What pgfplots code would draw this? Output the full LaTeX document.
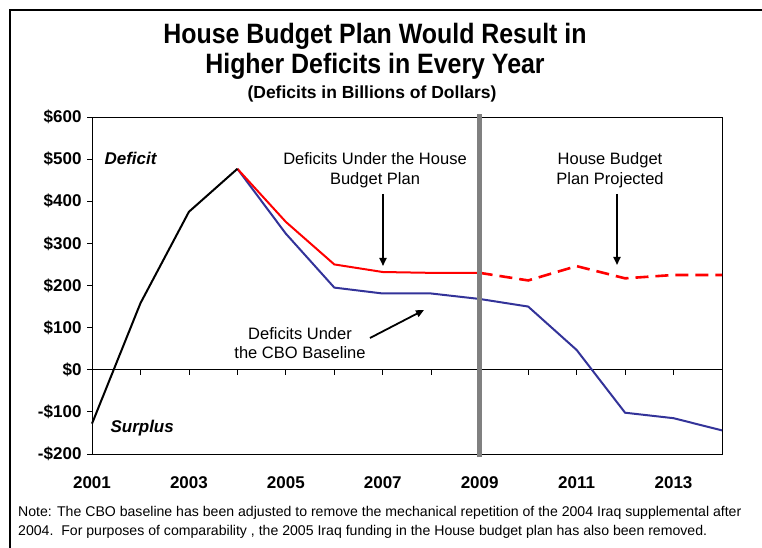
\documentclass[border=0pt]{standalone}
\usepackage{pgfplots}
\pgfplotsset{compat=1.18}
\usepackage{fontspec}
\setmainfont{Liberation Sans}
\newfontfamily\titlefont[FakeStretch=0.89]{Liberation Sans}
\usetikzlibrary{arrows.meta}
\definecolor{cboblue}{RGB}{51,51,153}
\definecolor{vline}{RGB}{128,128,128}
\newcommand{\fs}[1]{\fontsize{#1}{#1}\selectfont}
\begin{document}
\begin{tikzpicture}
\useasboundingbox (0pt,0pt) rectangle (762pt,548pt);
\draw[line width=2pt] (10pt,0pt) -- (10pt,538pt) -- (762pt,538pt);
\node[font=\titlefont\bfseries\fs{28}] at (375pt,512pt) {House Budget Plan Would Result in};
\node[font=\titlefont\bfseries\fs{28}] at (375pt,482pt) {Higher Deficits in Every Year};
\node[font=\bfseries\fs{17.5}] at (372pt,454pt) {(Deficits in Billions of Dollars)};
\begin{axis}[
  at={(92pt,94pt)}, anchor=south west,
  scale only axis, width=630pt, height=337pt,
  xmin=2001, xmax=2014, ymin=-200, ymax=600,
  xtick={2001,2003,2005,2007,2009,2011,2013},
  xticklabels={2001,2003,2005,2007,2009,2011,2013},
  ytick={-200,-100,0,100,200,300,400,500,600},
  yticklabels={-\$200,-\$100,\$0,\$100,\$200,\$300,\$400,\$500,\$600},
  ytick pos=left,
  /pgf/number format/assume math mode=true,
  ticklabel style={font=\bfseries\fs{17}},
  x tick style={draw=none},
  xticklabel style={yshift=-14pt},
  y tick style={black, line width=0.8pt},
  tick align=outside, major tick length=5pt,
  yticklabel style={xshift=-2pt},
  axis line style={line width=0.8pt},
  clip=false,
]
\draw[line width=0.8pt] (axis cs:2001,0) -- (axis cs:2014,0);
\pgfplotsinvokeforeach{2002,2003,2004,2005,2006,2007,2008,2009,2010,2011,2012,2013}{\draw[line width=0.8pt] (axis cs:#1,0) -- (axis cs:#1,-12);}
\addplot[cboblue, line width=2pt] coordinates {(2004,477) (2005,323) (2006,195) (2007,181) (2008,181) (2009,168) (2010,150) (2011,47) (2012,-102) (2013,-115) (2014,-144)};
\addplot[red, line width=2pt] coordinates {(2004,477) (2005,351) (2006,250) (2007,232) (2008,230) (2009,230)};
\addplot[red, line width=2.6pt, dash pattern=on 13pt off 7pt] coordinates {(2009,230) (2010,212) (2011,246) (2012,217) (2013,225) (2014,225)};
\addplot[black, line width=2pt] coordinates {(2001,-128) (2002,158) (2003,375) (2004,477)};
\addplot[vline, line width=5pt] coordinates {(2009,-208) (2009,608)};
\end{axis}
\node[anchor=west, font=\bfseries\itshape\fs{17}] at (101pt,390pt) {Deficit};
\node[anchor=west, font=\bfseries\itshape\fs{17}] at (107pt,120pt) {Surplus};
\node[align=center, font=\fs{16.5}, inner sep=0pt] at (375pt,378pt) {Deficits Under the House\\[4pt]Budget Plan};
\node[align=center, font=\fs{16.5}, inner sep=0pt] at (610pt,378pt) {House Budget\\[4pt]Plan Projected};
\node[align=center, font=\fs{16.5}, inner sep=0pt] at (300pt,205pt) {Deficits Under\\[2pt]the CBO Baseline};
\draw[line width=1.8pt, -{Triangle[length=8pt,width=7pt]}] (383pt,354pt) -- (383pt,282pt);
\draw[line width=1.8pt, -{Triangle[length=8pt,width=7pt]}] (617pt,354pt) -- (617pt,283pt);
\draw[line width=1.8pt, -{Triangle[length=8pt,width=7pt]}] (370pt,210pt) -- (424pt,238pt);
\node[anchor=west, font=\fs{14.1}, inner sep=0pt] at (18pt,35pt) {Note: The CBO baseline has been adjusted to remove the mechanical repetition of the 2004 Iraq supplemental after};
\node[anchor=west, font=\fs{14.1}, inner sep=0pt] at (18pt,16pt) {2004.\ \ For purposes of comparability , the 2005 Iraq funding in the House budget plan has also been removed.};
\end{tikzpicture}
\end{document}
